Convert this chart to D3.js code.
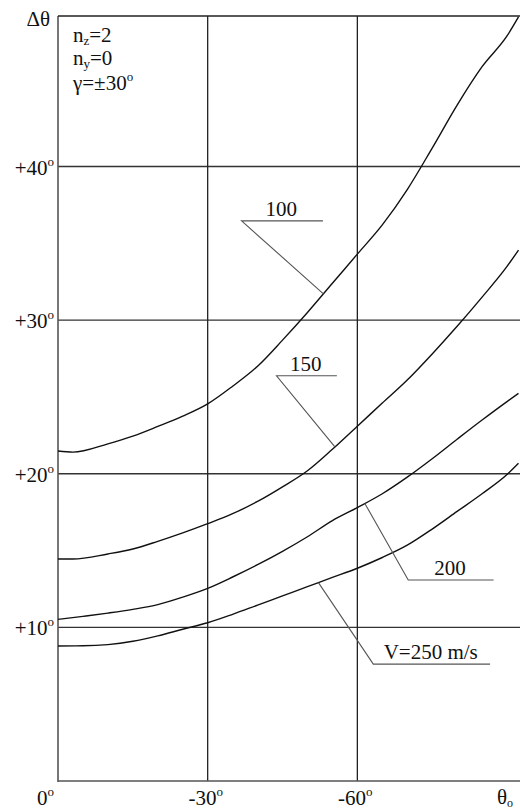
<!DOCTYPE html>
<html>
<head>
<meta charset="utf-8">
<script src="https://cdn.jsdelivr.net/npm/d3@7"></script>
<style>
  html, body { margin: 0; padding: 0; background: #fff; }
  svg { display: block; }
</style>
</head>
<body>
<svg id="chart" width="520" height="809" font-family="'Liberation Serif', 'DejaVu Serif', 'Times New Roman', serif"></svg>
<script>
// Pitch-angle increment Δθ versus initial pitch θ0 for several flight speeds
const xTicks = [0, -30, -60];
const yTicks = [10, 20, 30, 40];
const speeds = [100, 150, 200, 250];

const theta100 = [0, -3, -10, -15, -20, -25, -30, -35, -40, -45, -50, -55, -60, -65, -70, -75, -80, -85, -90, -92.3];
const dtheta100 = [21.48, 21.41, 21.95, 22.45, 23.08, 23.75, 24.55, 25.7, 27.0, 28.7, 30.5, 32.4, 34.3, 36.2, 38.5, 41.2, 44.0, 46.5, 48.5, 49.74];

const theta150 = [0, -3, -10, -15, -20, -25, -30, -35, -40, -45, -50, -55, -60, -65, -70, -75, -80, -85, -90, -92.3];
const dtheta150 = [14.45, 14.45, 14.78, 15.1, 15.6, 16.15, 16.75, 17.4, 18.2, 19.15, 20.2, 21.6, 23.1, 24.6, 26.1, 27.8, 29.6, 31.5, 33.5, 34.56];

const theta200 = [0, -5, -10, -15, -20, -25, -30, -35, -40, -45, -50, -55, -60, -65, -70, -75, -80, -85, -90, -92.3];
const dtheta200 = [10.52, 10.72, 10.93, 11.17, 11.48, 11.97, 12.54, 13.28, 14.08, 14.95, 15.9, 16.95, 17.8, 18.7, 19.78, 20.98, 22.25, 23.5, 24.7, 25.23];

const theta250 = [0, -5, -10, -15, -20, -25, -30, -35, -40, -45, -50, -55, -60, -65, -70, -75, -80, -85, -90, -92.3];
const dtheta250 = [8.79, 8.8, 8.88, 9.1, 9.45, 9.88, 10.3, 10.85, 11.45, 12.05, 12.65, 13.25, 13.85, 14.55, 15.35, 16.4, 17.55, 18.7, 19.95, 20.68];

const curveTheta = [theta100, theta150, theta200, theta250];
const curveDelta = [dtheta100, dtheta150, dtheta200, dtheta250];

// Callout labels: text, θ0 where the leader meets its curve
const labelTexts = ["100", "150", "200", "V=250 m/s"];
const labelTouch = [-53.2, -55.5, -61.5, -52.2];

const svg = d3.select("#chart");
const W = 520;

const x = d3.scaleLinear().domain([0, -92.6]).range([58, W]);
const y = d3.scaleLinear().domain([0, 49.8]).range([781, 16]);

// Callout layout (in chart units): elbow point and end of the shelf line
const labelLayout = [
  { ex: -36.8, ey: 36.46, sx: -53.1 },
  { ex: -43.8, ey: 26.38, sx: -55.9 },
  { ex: -70.2, ey: 13.08, sx: -87.3 },
  { ex: -63.2, ey: 7.61,  sx: -86.6 }
];

const x0 = x(0), xR = x.range()[1];
const yB = y(0), yT = y(y.domain()[1]);
const FS = 21, SUP = 13;

// horizontal grid
svg.append("g").selectAll("line").data(yTicks).join("line")
  .attr("x1", x0).attr("x2", xR)
  .attr("y1", d => y(d)).attr("y2", d => y(d))
  .attr("stroke", "#333").attr("stroke-width", 1.4);

// vertical grid
svg.append("g").selectAll("line").data(xTicks.slice(1)).join("line")
  .attr("x1", d => x(d)).attr("x2", d => x(d))
  .attr("y1", yB).attr("y2", yT)
  .attr("stroke", "#222").attr("stroke-width", 1.3);

// frame: left axis, top and bottom edges
const frame = svg.append("g").attr("stroke", "#555").attr("stroke-width", 1.6);
frame.append("line").attr("x1", x0).attr("x2", x0).attr("y1", yB + 1).attr("y2", yT);
frame.append("line").attr("x1", x0).attr("x2", xR).attr("y1", yB).attr("y2", yB);
frame.append("line").attr("x1", x0).attr("x2", xR).attr("y1", yT).attr("y2", yT).attr("stroke", "#222");

// curves
const line = d3.line().curve(d3.curveMonotoneX)
  .x(d => x(d[0])).y(d => y(d[1]));
svg.append("g").selectAll("path").data(speeds.map((s, i) => d3.zip(curveTheta[i], curveDelta[i])))
  .join("path")
  .attr("d", line)
  .attr("fill", "none").attr("stroke", "#111").attr("stroke-width", 1.4);

// value of a curve at θ0 (linear between read points)
function valueAt(ts, vs, t) {
  for (let i = 0; i < ts.length - 1; i++) {
    if (t <= ts[i] && t >= ts[i + 1]) {
      const f = (t - ts[i]) / (ts[i + 1] - ts[i]);
      return vs[i] + f * (vs[i + 1] - vs[i]);
    }
  }
  return vs[vs.length - 1];
}

// callouts
const callouts = svg.append("g");
labelTexts.forEach((txt, i) => {
  const L = labelLayout[i];
  const tx = labelTouch[i];
  const ty = valueAt(curveTheta[i], curveDelta[i], tx);
  callouts.append("polyline")
    .attr("points", [[x(tx), y(ty)], [x(L.ex), y(L.ey)], [x(L.sx), y(L.ey)]].map(p => p.join(",")).join(" "))
    .attr("fill", "none").attr("stroke", "#555").attr("stroke-width", 1.1);
  callouts.append("text")
    .attr("x", (x(L.ex) + x(L.sx)) / 2 - 1)
    .attr("y", y(L.ey) - 5)
    .attr("text-anchor", "middle")
    .attr("font-size", FS).attr("fill", "#111")
    .text(txt);
});

// degree-style superscript helper
function withDeg(sel, main) {
  sel.append("tspan").text(main);
  sel.append("tspan").attr("font-size", SUP).attr("dy", -9).text("o");
}

// y tick labels
yTicks.forEach(v => {
  const t = svg.append("text")
    .attr("x", x0 - 4).attr("y", y(v) + 8)
    .attr("text-anchor", "end").attr("font-size", FS).attr("fill", "#111");
  withDeg(t, "+" + v);
});

// x tick labels
xTicks.forEach(v => {
  const t = svg.append("text")
    .attr("x", v === 0 ? x0 - 4 : x(v) - 2)
    .attr("y", 805)
    .attr("text-anchor", v === 0 ? "end" : "middle")
    .attr("font-size", FS).attr("fill", "#111");
  withDeg(t, v === 0 ? "0" : String(v));
});

// axis titles
const th = svg.append("text").attr("x", W - 7).attr("y", 804)
  .attr("text-anchor", "end").attr("font-size", FS).attr("fill", "#111");
th.append("tspan").text("θ");
th.append("tspan").attr("font-size", SUP - 1).attr("dy", 3).text("o");

svg.append("text").attr("x", x0 - 8).attr("y", 26)
  .attr("text-anchor", "end").attr("font-size", FS).attr("fill", "#111").text("Δθ");

// flight conditions
const cond = svg.append("g").attr("font-size", FS).attr("fill", "#111");
const c1 = cond.append("text").attr("x", 73).attr("y", 42);
c1.append("tspan").text("n");
c1.append("tspan").attr("font-size", SUP).attr("dy", 3).text("z");
c1.append("tspan").attr("dy", -3).text("=2");
const c2 = cond.append("text").attr("x", 73).attr("y", 65);
c2.append("tspan").text("n");
c2.append("tspan").attr("font-size", SUP).attr("dy", 3).text("y");
c2.append("tspan").attr("dy", -3).text("=0");
const c3 = cond.append("text").attr("x", 73).attr("y", 90);
c3.append("tspan").text("γ=±30");
c3.append("tspan").attr("font-size", SUP).attr("dy", -9).text("o");
</script>
</body>
</html>
